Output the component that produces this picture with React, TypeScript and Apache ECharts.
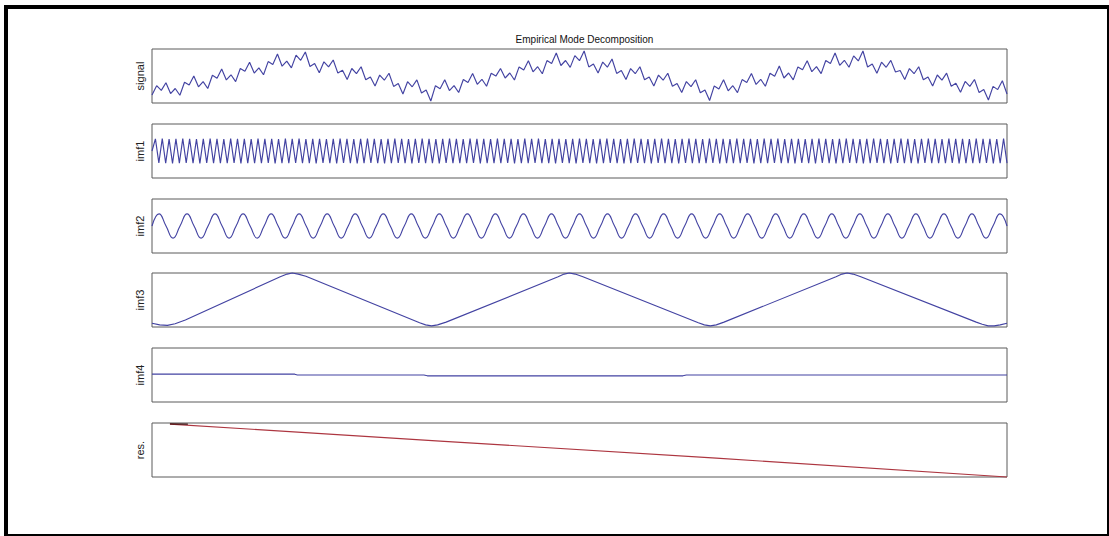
import React, { useEffect, useRef } from "react";
import * as echarts from "echarts";

const TITLE = "Empirical Mode Decomposition";
const PANEL_LABELS = ["signal", "imf1", "imf2", "imf3", "imf4", "res."];

// signal (height above panel bottom, uniform samples)
const signal = [
  8, 17.3, 12.6, 20.2, 9.4, 14.5, 7.7, 20.8, 17.9, 27.1,
  16.2, 21.4, 14.5, 27.7, 24.8, 33.9, 23.1, 28.2, 21.4, 34.5,
  31.7, 40.8, 29.9, 35.1, 28.2, 41.4, 38.5, 49, 36.8, 41.9,
  35.1, 47.8, 42.7, 51, 36.5, 39.4, 30.3, 41.2, 36.1, 43.0,
  29.9, 32.7, 23.6, 34.5, 29.4, 36.3, 23.2, 26.1, 17.0, 27.9,
  22.8, 29.7, 16.6, 19.5, 9, 21.3, 16.2, 23.1, 10.0, 12.9,
  2, 17.3, 14.3, 23.3, 12.4, 17.4, 10.5, 23.5, 20.6, 29.6,
  18.7, 23.7, 16.8, 29.8, 26.9, 34.5, 25.0, 30.0, 23.0, 36.1,
  33.1, 42.2, 31.2, 36.3, 29.3, 42.4, 39.4, 50, 37.5, 42.5,
  35.6, 47.4, 42.3, 52, 36.1, 39.0, 30.0, 40.9, 35.8, 44,
  29.6, 32.6, 23.5, 34.4, 29.3, 36.2, 23.2, 26.1, 17.0, 27.9,
  22.8, 29.8, 16.7, 19.6, 10.5, 21.4, 16.4, 23.3, 10.2, 13.1,
  2.5, 17.1, 14.1, 23.2, 12.2, 17.3, 10.4, 23.4, 20.5, 29.5,
  18.6, 23.7, 16.7, 29.8, 26.8, 37, 25.0, 30.0, 23.1, 36.1,
  33.2, 42.3, 31.3, 36.4, 29.4, 42.5, 39.6, 50, 37.7, 42.7,
  35.8, 47.1, 42.1, 52, 36.0, 38.9, 29.8, 40.8, 35.7, 42.6,
  31, 32.5, 23.5, 34.4, 29.3, 36.3, 23.2, 26.1, 17.1, 28.0,
  22.9, 29.9, 16.8, 19.8, 10.7, 21.6, 16.6, 23.5, 10.4, 13.4,
  3, 16.6, 13.4, 22.2, 9,
];

// imf1: fast zigzag
const imf1 = [
  0,
  0.45, -0.44, 0.46, -0.45, 0.44, -0.46, 0.45, -0.45, 0.46, -0.44,
  0.45, -0.45, 0.44, -0.46, 0.45, -0.44, 0.46, -0.45, 0.45, -0.45,
  0.44, -0.45, 0.46, -0.44, 0.45, -0.46, 0.45, -0.45, 0.44, -0.45,
  0.46, -0.45, 0.45, -0.44, 0.45, -0.46, 0.44, -0.45, 0.46, -0.45,
  0.45, -0.44, 0.46, -0.45, 0.44, -0.45, 0.45, -0.46, 0.45, -0.44,
  0.44, -0.45, 0.45, -0.46, 0.46, -0.44, 0.45, -0.45, 0.44, -0.46,
  0.45, -0.45, 0.46, -0.44, 0.45, -0.45, 0.44, -0.46, 0.45, -0.45,
  0.46, -0.44, 0.45, -0.45, 0.44, -0.46, 0.45, -0.44, 0.46, -0.45,
  0.45, -0.45, 0.44, -0.46, 0.45, -0.44, 0.46, -0.45, 0.45, -0.45,
  0.44, -0.45, 0.46, -0.44, 0.45, -0.46, 0.45, -0.45, 0.44, -0.45,
  0.46, -0.45, 0.45, -0.44, 0.45, -0.46, 0.44, -0.45, 0.46, -0.45,
  0.45, -0.44, 0.46, -0.45, 0.44, -0.45, 0.45, -0.46, 0.45, -0.44,
  0.44, -0.45, 0.45, -0.46, 0.46, -0.44, 0.45, -0.45, 0.44, -0.46,
  0.45, -0.45, 0.46, -0.44, 0.45, -0.45, 0.44, -0.46, 0.45, -0.45,
  0.46, -0.44, 0.45, -0.45, 0.44, -0.46, 0.45, -0.44, 0.46, -0.45,
  0.45, -0.45, 0.44, -0.46, 0.45, -0.44, 0.46, -0.45, 0.45, -0.45,
  0.44, -0.45, 0.46, -0.44, 0.45, -0.46, 0.45, -0.45, 0.44, -0.45,
  0.46, -0.45, 0.45, -0.44, 0.45, -0.46, 0.44, -0.45, 0.46, -0.45,
  0.45, -0.44, 0.46, -0.45, 0.44, -0.45, 0.45, -0.46, 0.45, -0.44,
  0.44, -0.45, 0.45, -0.46, 0.46, -0.44, 0.45, -0.45, 0.44, -0.46,
  0.45, -0.45, 0.46, -0.44, 0.45, -0.45, 0.44, -0.46, 0.45, -0.45,
  0.46, -0.44, 0.45, -0.45, 0.44, -0.46, 0.45, -0.44, 0.46, -0.45,
  0.45, -0.45, 0.44, -0.46, 0.45, -0.44, 0.46, -0.45, 0.45, -0.45,
  0.44, -0.45, 0.46, -0.44, 0.45, -0.46, 0.45, -0.45, 0.44, -0.45,
  0.46, -0.45, 0.45, -0.44, 0.45, -0.46, 0.44, -0.45, 0.46, -0.45,
];

// imf2: smooth oscillation (zero, peak, zero, trough)
const imf2 = [
  0,
  0.45, 0, -0.45, 0, 0.45, 0, -0.45, 0, 0.45, 0, -0.45, 0,
  0.45, 0, -0.45, 0, 0.45, 0, -0.45, 0, 0.45, 0, -0.45, 0,
  0.45, 0, -0.45, 0, 0.45, 0, -0.45, 0, 0.45, 0, -0.45, 0,
  0.45, 0, -0.45, 0, 0.45, 0, -0.45, 0, 0.45, 0, -0.45, 0,
  0.45, 0, -0.45, 0, 0.45, 0, -0.45, 0, 0.45, 0, -0.45, 0,
  0.45, 0, -0.45, 0, 0.45, 0, -0.45, 0, 0.45, 0, -0.45, 0,
  0.45, 0, -0.45, 0, 0.45, 0, -0.45, 0, 0.45, 0, -0.45, 0,
  0.45, 0, -0.45, 0, 0.45, 0, -0.45, 0, 0.45, 0, -0.45, 0,
  0.45, 0, -0.45, 0, 0.45, 0, -0.45, 0, 0.45, 0, -0.45, 0,
  0.45, 0, -0.45, 0, 0.45, 0, -0.45, 0, 0.45, 0, -0.45, 0,
  0.45, 0,
];

// imf3: [sample, value]
const imf3 = [
  [0, 0.07], [9, 0.04], [18, 0.03], [27, 0.06], [39, 0.13],
  [150, 0.93], [158, 0.98], [164, 1.0], [171, 0.98], [180, 0.94],
  [313, 0.08], [320, 0.04], [327, 0.02], [334, 0.04], [344, 0.09],
  [475, 0.93], [482, 0.98], [488, 1.0], [495, 0.98], [504, 0.93],
  [639, 0.08], [646, 0.04], [653, 0.02], [660, 0.04], [669, 0.09],
  [800, 0.93], [807, 0.98], [813, 1.0], [820, 0.98], [829, 0.93],
  [964, 0.09], [971, 0.05], [978, 0.02], [985, 0.02], [992, 0.04], [1000, 0.07],
];

// imf4: nearly flat
const imf4 = [
  [0, 0.03], [167, 0.03], [170, 0.0], [318, 0.0], [322, -0.03],
  [621, -0.03], [625, 0.0], [1000, 0.0],
];

// residual trend
const res = [[21, 0.98], [337, 0.665], [660, 0.35], [1000, 0.0]];
const resHead = [[21, 0.985], [42, 0.98]];

const GRID_TOPS = [49, 124, 199, 273, 348, 423];
const BLUE = "#4343a2";
const RED = "#ad3640";
const FONT = "Liberation Sans, Arial, sans-serif";

export default function App() {
  const ref = useRef<HTMLDivElement>(null);
  useEffect(() => {
    if (!ref.current) return;
    const chart = echarts.init(ref.current, undefined, { renderer: "svg" });
    const grids = GRID_TOPS.map((top) => ({
      left: 152,
      width: 855,
      top,
      height: 54,
      show: true,
      borderColor: "#5a5a5a",
      borderWidth: 1,
      containLabel: false,
    }));
    const hidden = {
      axisLine: { show: false },
      axisTick: { show: false },
      axisLabel: { show: false },
      splitLine: { show: false },
    };
    const catX = (arr: number[], gi: number) => ({
      type: "category",
      gridIndex: gi,
      boundaryGap: false,
      data: arr.map((_, i) => i),
      ...hidden,
    });
    const valX = (gi: number) => ({ type: "value", gridIndex: gi, min: 0, max: 1000, ...hidden });
    const yRanges = [
      [0, 54],
      [-1, 1],
      [-1, 1],
      [0, 1],
      [-1, 1],
      [0, 1],
    ];
    const yAxes = yRanges.map((r, i) => ({
      type: "value",
      gridIndex: i,
      min: r[0],
      max: r[1],
      name: PANEL_LABELS[i],
      nameLocation: "middle",
      nameGap: 7,
      nameTextStyle: { fontSize: 11, fontFamily: FONT, color: "#222" },
      ...hidden,
    }));
    const lineBase = {
      type: "line",
      showSymbol: false,
      symbol: "none",
      clip: false,
      silent: true,
    };
    const ls = (c: string) => ({ color: c, width: 1.15 });
    chart.setOption({
      animation: false,
      backgroundColor: "#fff",
      title: {
        text: TITLE,
        left: 579.5,
        top: 29,
        textAlign: "center",
        textStyle: { fontSize: 10, fontWeight: "normal", color: "#111", fontFamily: FONT },
      },
      grid: grids,
      xAxis: [catX(signal, 0), catX(imf1, 1), catX(imf2, 2), valX(3), valX(4), valX(5)],
      yAxis: yAxes,
      series: [
        { ...lineBase, xAxisIndex: 0, yAxisIndex: 0, data: signal, lineStyle: ls(BLUE) },
        { ...lineBase, xAxisIndex: 1, yAxisIndex: 1, data: imf1, lineStyle: ls(BLUE) },
        { ...lineBase, xAxisIndex: 2, yAxisIndex: 2, data: imf2, smooth: true, lineStyle: ls(BLUE) },
        { ...lineBase, xAxisIndex: 3, yAxisIndex: 3, data: imf3, lineStyle: ls(BLUE) },
        { ...lineBase, xAxisIndex: 4, yAxisIndex: 4, data: imf4, lineStyle: ls(BLUE) },
        { ...lineBase, xAxisIndex: 5, yAxisIndex: 5, data: res, lineStyle: ls(RED) },
        { ...lineBase, xAxisIndex: 5, yAxisIndex: 5, data: resHead, lineStyle: ls("#3a1010") },
      ],
      graphic: [
        { type: "rect", shape: { x: 4, y: 5, width: 1105, height: 4 }, style: { fill: "#000" }, silent: true },
        { type: "rect", shape: { x: 4, y: 5, width: 4, height: 531 }, style: { fill: "#000" }, silent: true },
        { type: "rect", shape: { x: 1107, y: 5, width: 2, height: 531 }, style: { fill: "#000" }, silent: true },
        { type: "rect", shape: { x: 4, y: 534, width: 1105, height: 2 }, style: { fill: "#000" }, silent: true },
      ],
    });
    return () => chart.dispose();
  }, []);
  return (
    <div
      ref={ref}
      style={{ position: "fixed", left: 0, top: 0, width: 1109, height: 536, background: "#fff" }}
    />
  );
}
